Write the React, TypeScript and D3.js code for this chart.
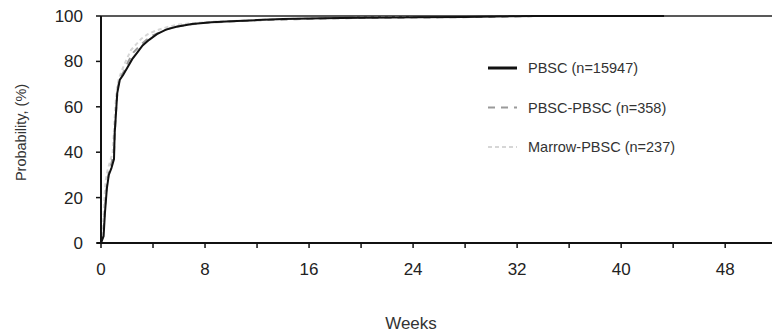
import * as d3 from 'd3'
import { useEffect, useRef } from 'react'

// weeks / cumulative probability (%)
const pbscWeeks = [0, 0.2, 0.3, 0.45, 0.6, 0.8, 1.0, 1.05, 1.15, 1.25, 1.45, 1.7, 2.0, 2.4, 2.8, 3.2, 3.7, 4.3, 5.0, 5.8, 7.0, 8.5, 10, 12, 14, 17, 20, 24, 28, 33.4, 43.3]
const pbscValues = [0, 3, 13, 24, 30, 33, 37, 48, 57, 66, 72, 74, 77, 81, 84, 87, 89.5, 92, 94, 95.3, 96.5, 97.2, 97.7, 98.2, 98.7, 99, 99.2, 99.4, 99.6, 100, 100]

const pbscPbscWeeks = [0, 0.2, 0.3, 0.45, 0.6, 0.8, 1.0, 1.1, 1.2, 1.3, 1.5, 1.8, 2.1, 2.5, 3.0, 3.5, 4.0, 4.8, 5.5, 6.5, 8, 10, 12, 15, 18, 22, 26, 30, 33.4]
const pbscPbscValues = [0, 5, 15, 25, 31, 35, 40, 52, 62, 69, 73, 76, 80, 84, 87, 89.5, 91.5, 93.5, 95, 96, 97, 97.6, 98.1, 98.6, 99, 99.2, 99.4, 99.6, 100]

const marrowWeeks = [0, 0.15, 0.25, 0.35, 0.5, 0.7, 0.9, 1.0, 1.1, 1.2, 1.35, 1.6, 1.9, 2.3, 2.7, 3.1, 3.6, 4.2, 5.0, 6.0, 7.5, 9, 11, 13, 16, 20, 24]
const marrowValues = [0, 6, 18, 27, 32, 36, 40, 50, 60, 67, 72, 76, 80, 85, 87.5, 90, 92, 93.5, 95, 96.3, 97, 97.6, 98, 98.5, 98.9, 99.2, 99.5]

const yTicks = [0, 20, 40, 60, 80, 100]
const xMajorTicks = [0, 8, 16, 24, 32, 40, 48]
const xMinorTicks = [4, 12, 20, 28, 36, 44]

const legendLabels = ['PBSC (n=15947)', 'PBSC-PBSC (n=358)', 'Marrow-PBSC (n=237)']

export default function App() {
  const ref = useRef<SVGSVGElement | null>(null)

  useEffect(() => {
    if (!ref.current) return
    const svg = d3.select(ref.current)
    svg.selectAll('*').remove()

    const width = 772
    const height = 335
    const margin = { top: 16, right: 0, bottom: 92, left: 101 }
    const font = '"Liberation Sans", Arial, sans-serif'

    const x = d3.scaleLinear().domain([0, 51.6]).range([margin.left, width - margin.right])
    const y = d3.scaleLinear().domain([0, 100]).range([height - margin.bottom, margin.top])

    const series = [
      { weeks: pbscWeeks, values: pbscValues, color: '#111', width: 2, dash: null as string | null },
      { weeks: pbscPbscWeeks, values: pbscPbscValues, color: '#9a9a9a', width: 2, dash: '7 6' },
      { weeks: marrowWeeks, values: marrowValues, color: '#d6d6d6', width: 2, dash: '4 3' },
    ]

    const line = d3.line<[number, number]>()
      .x(d => x(d[0]))
      .y(d => y(d[1]))

    // top frame line
    svg.append('line')
      .attr('x1', x(0)).attr('x2', width)
      .attr('y1', y(100)).attr('y2', y(100))
      .attr('stroke', '#222').attr('stroke-width', 1.6)

    // curves, drawn lightest first
    series.slice().reverse().forEach(s => {
      const pts = s.weeks.map((w, i) => [w, s.values[i]] as [number, number])
      svg.append('path')
        .attr('d', line(pts))
        .attr('fill', 'none')
        .attr('stroke', s.color)
        .attr('stroke-width', s.width)
        .attr('stroke-dasharray', s.dash)
    })

    // x axis
    const xAxis = svg.append('g').attr('transform', `translate(0,${y(0)})`)
    xAxis.append('line')
      .attr('x1', x(0) - 4).attr('x2', width)
      .attr('stroke', '#111').attr('stroke-width', 2)
    xAxis.selectAll('.tick')
      .data([...xMajorTicks, ...xMinorTicks])
      .join('line')
      .attr('x1', d => x(d)).attr('x2', d => x(d))
      .attr('y1', 0).attr('y2', 5)
      .attr('stroke', '#111').attr('stroke-width', 1.5)
    xAxis.selectAll('text')
      .data(xMajorTicks)
      .join('text')
      .attr('x', d => x(d))
      .attr('y', 32)
      .attr('text-anchor', 'middle')
      .attr('font-family', font)
      .attr('font-size', 17)
      .attr('fill', '#222')
      .text(d => d)

    // y axis
    const yAxis = svg.append('g').attr('transform', `translate(${x(0)},0)`)
    yAxis.append('line')
      .attr('y1', y(0)).attr('y2', y(100))
      .attr('stroke', '#111').attr('stroke-width', 2)
    yAxis.selectAll('.tick')
      .data(yTicks)
      .join('line')
      .attr('x1', -5).attr('x2', 0)
      .attr('y1', d => y(d)).attr('y2', d => y(d))
      .attr('stroke', '#111').attr('stroke-width', 1.5)
    yAxis.selectAll('text')
      .data(yTicks)
      .join('text')
      .attr('x', -18)
      .attr('y', d => y(d) + 6)
      .attr('text-anchor', 'end')
      .attr('font-family', font)
      .attr('font-size', 17)
      .attr('fill', '#222')
      .text(d => d)

    // axis titles
    svg.append('text')
      .attr('transform', `translate(26,${(y(0) + y(100)) / 2 + 3}) rotate(-90)`)
      .attr('text-anchor', 'middle')
      .attr('font-family', font)
      .attr('font-size', 14.5)
      .attr('fill', '#333')
      .text('Probability, (%)')
    svg.append('text')
      .attr('x', 411)
      .attr('y', 329)
      .attr('text-anchor', 'middle')
      .attr('font-family', font)
      .attr('font-size', 17)
      .attr('fill', '#333')
      .text('Weeks')

    // legend
    const legend = svg.append('g').attr('transform', 'translate(488,68)')
    series.forEach((s, i) => {
      const g = legend.append('g').attr('transform', `translate(0,${i * 39.5})`)
      g.append('line')
        .attr('x1', 0).attr('x2', 29)
        .attr('stroke', s.color)
        .attr('stroke-width', i === 0 ? 3 : 2)
        .attr('stroke-dasharray', s.dash)
      g.append('text')
        .attr('x', 40)
        .attr('y', 5)
        .attr('font-family', font)
        .attr('font-size', 14.5)
        .attr('fill', '#333')
        .text(legendLabels[i])
    })
  }, [])

  return (
    <svg
      ref={ref}
      width={772}
      height={335}
      style={{ position: 'absolute', left: 0, top: 0, background: '#fff' }}
    />
  )
}
